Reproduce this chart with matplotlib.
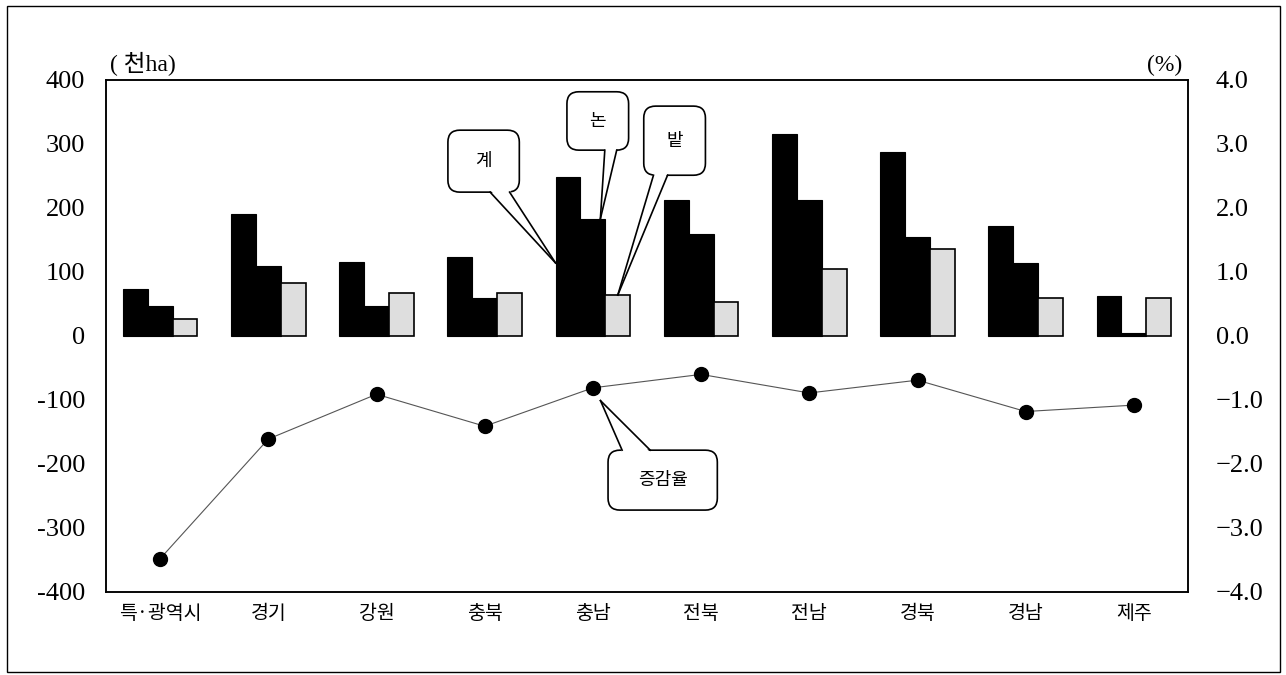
import numpy as np
import matplotlib.pyplot as plt
from matplotlib.patches import FancyBboxPatch, Polygon, Rectangle
from matplotlib.lines import Line2D

plt.rcParams['axes.unicode_minus'] = False

# data
regions = ['특·광역시', '경기', '강원', '충북', '충남', '전북', '전남', '경북', '경남', '제주']
total = [73, 190, 115, 124, 248, 212, 315, 288, 172, 62]   # 계 (천ha)
paddy = [47, 109, 47, 59, 183, 159, 212, 154, 114, 4]     # 논
field = [26, 83, 67, 67, 64, 53, 104, 136, 60, 60]        # 밭
rate = [-3.48, -1.61, -0.91, -1.41, -0.81, -0.60, -0.89, -0.69, -1.18, -1.08]  # 증감율 (%)

left_ticks = [400, 300, 200, 100, 0, -100, -200, -300, -400]
left_labels = ['400', '300', '200', '100', '0', '-100', '-200', '-300', '-400']
right_ticks = [4, 3, 2, 1, 0, -1, -2, -3, -4]
right_labels = ['4.0', '3.0', '2.0', '1.0', '0.0', '\u22121.0', '\u22122.0', '\u22123.0', '\u22124.0']

num_font = ['Liberation Serif', 'Noto Sans CJK KR']
kr_font = ['Noto Sans CJK KR', 'DejaVu Sans']

W, H = 1286, 675
fig = plt.figure(figsize=(W / 100, H / 100), dpi=100)

# outer frame round the whole chart
fig.patches.append(Rectangle((7 / W, 3 / H), 1273 / W, 666 / H, transform=fig.transFigure,
                             fill=False, ec='black', lw=1.0))

ax = fig.add_axes([106 / W, 1 - 592 / H, 1082 / W, 512 / H])
ax2 = ax.twinx()

x = np.arange(len(regions))
w = 0.23
ax.bar(x - w, total, w, color='black', ec='black', lw=0.8, zorder=2)
ax.bar(x, paddy, w, color='black', ec='black', lw=0.8, zorder=2)
ax.bar(x + w, field, w, color='#dedede', ec='black', lw=1.2, zorder=2)

ax2.plot(x, rate, color='#555555', lw=0.8, marker='o', ms=10, mfc='black', mec='black')

ax.set_xlim(-0.5, len(regions) - 0.5)
ax.set_ylim(-400, 400)
ax2.set_ylim(-4, 4)

ax.set_yticks(left_ticks)
ax.set_yticklabels(left_labels, family=num_font, fontsize=19)
ax2.set_yticks(right_ticks)
ax2.set_yticklabels(right_labels, family=num_font, fontsize=19)
ax.set_xticks(x)
ax.set_xticklabels(regions, family=kr_font, fontsize=14)
ax.tick_params(axis='y', length=0, pad=15)
ax2.tick_params(axis='y', length=0, pad=20)
ax.tick_params(axis='x', length=0, pad=8)
for a in (ax, ax2):
    for s in a.spines.values():
        s.set_linewidth(1.1)
        s.set_color('black')

ax.text(0.004, 1.008, '( 천ha)', transform=ax.transAxes, ha='left', va='bottom',
        family=num_font, fontsize=17)
ax.text(0.995, 1.008, '(%)', transform=ax.transAxes, ha='right', va='bottom',
        family=num_font, fontsize=17)


def to_axes(a, pt):
    # data point of axes a -> axes fraction
    return ax2.transAxes.inverted().transform(a.transData.transform(pt))


def callout(label, box, base, tip, fs=13, top=False):
    x0, y0, x1, y1 = box
    ax2.add_patch(FancyBboxPatch((x0, y0), x1 - x0, y1 - y0,
                                 boxstyle='round,pad=0,rounding_size=0.011',
                                 mutation_aspect=2.11, transform=ax2.transAxes,
                                 fc='white', ec='black', lw=1.2, zorder=5, clip_on=False))
    yb = y1 if top else y0
    inner = -0.004 if top else 0.004
    b0, b1 = base
    ax2.add_patch(Polygon([(b0, yb + inner), (b1, yb + inner), tip], closed=True,
                          transform=ax2.transAxes, fc='white', ec='none', zorder=6,
                          clip_on=False))
    for b in (b0, b1):
        ax2.add_line(Line2D([b, tip[0]], [yb, tip[1]], transform=ax2.transAxes,
                            color='black', lw=1.2, zorder=7, clip_on=False))
    ax2.text((x0 + x1) / 2, (y0 + y1) / 2, label, transform=ax2.transAxes, ha='center',
             va='center', family=kr_font, fontsize=fs, zorder=8)


i = regions.index('충남')
callout('계', (0.316, 0.781, 0.382, 0.902), (0.355, 0.373),
        to_axes(ax, (x[i] - 1.5 * w, total[i] * 0.46)))
callout('논', (0.426, 0.863, 0.483, 0.977), (0.461, 0.472),
        to_axes(ax, (x[i] + 0.3 * w, paddy[i])))
callout('밭', (0.497, 0.814, 0.554, 0.949), (0.506, 0.519),
        to_axes(ax, (x[i] + w, field[i])))
callout('증감율', (0.464, 0.160, 0.565, 0.277), (0.477, 0.503),
        to_axes(ax2, (x[i] + 0.07, rate[i] - 0.2)), top=True)

fig.savefig('out.png', dpi=100)
